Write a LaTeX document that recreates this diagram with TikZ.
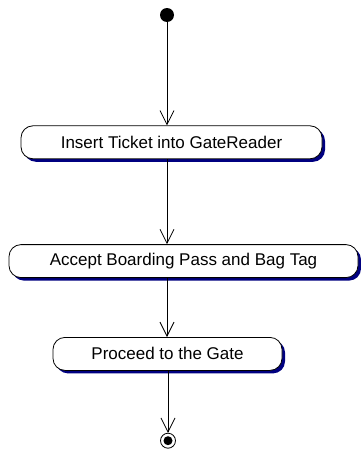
\documentclass[tikz,border=0pt]{standalone}
\usepackage{fontspec}
\setmainfont{Liberation Sans}
\usetikzlibrary{arrows.meta, positioning, shadows}
\definecolor{shadowblue}{RGB}{0,0,128}
\tikzset{
  >={Straight Barb[length=14pt,width=14pt]}, % open V heads as in the sketch
  activity/.style={draw, fill=white, rounded corners=12pt, inner sep=0pt,
    minimum height=33pt, font=\fontsize{17}{20}\selectfont,
    general shadow={fill=shadowblue, shadow xshift=3pt, shadow yshift=-3pt}},
  % the start and end points of the activity
  start_dot/.style={circle, fill=black, minimum size=14pt, inner sep=0pt},
  final_dot/.style={circle, draw, fill=white, minimum size=15pt, inner sep=0pt,
    path picture={\fill[black] (path picture bounding box.center) circle (4.5pt);}},
}

\begin{document}
\begin{tikzpicture}[x=1pt, y=1pt, thick]
    \useasboundingbox (0,0) rectangle (360,-450);

    \node[start_dot] (start_0) at (167,-15) {};
    \node[activity, minimum width=301pt, below=103pt of start_0, xshift=4.5pt]
      (insert_ticket) {Insert Ticket into GateReader};
    \node[activity, minimum width=349pt, below=85pt of insert_ticket, xshift=12pt]
      (accept_pass) {Accept Boarding Pass and Bag Tag};
    \node[activity, minimum width=229pt, below=59pt of accept_pass, xshift=-16pt]
      (proceed_gate) {Proceed to the Gate};
    \node[final_dot, below=62pt of proceed_gate, xshift=0.5pt] (final_0) {};

    \draw[->] (start_0) -- (start_0 |- insert_ticket.north);
    \draw[->] (insert_ticket.south -| start_0) -- (start_0 |- accept_pass.north);
    \draw[->] (accept_pass.south -| start_0) -- (start_0 |- proceed_gate.north);
    \draw[->] (proceed_gate.south -| final_0) -- (final_0);
  \end{tikzpicture}
\end{document}
